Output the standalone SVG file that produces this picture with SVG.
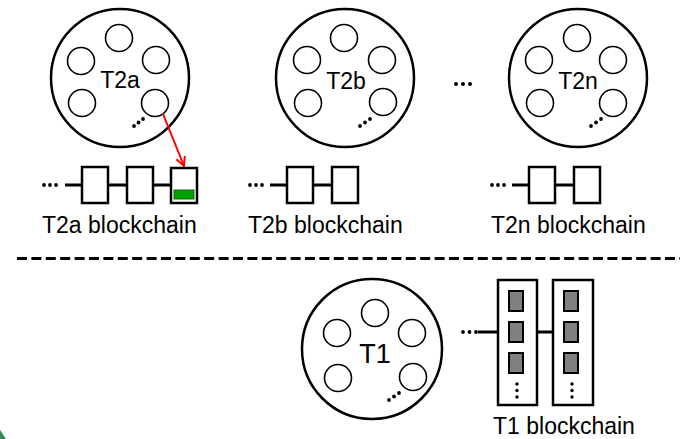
<svg xmlns="http://www.w3.org/2000/svg" width="680" height="439" viewBox="0 0 680 439">
<defs>
<style>
.outer{fill:#fff;stroke:#000;stroke-width:2.5}
.member{fill:#fff;stroke:#000;stroke-width:1.6}
.blk{fill:#fff;stroke:#000;stroke-width:2.5}
.link{stroke:#000;stroke-width:3;fill:none}
.dot{fill:#000}
.tx{font-family:"Liberation Sans",Arial,sans-serif;fill:#000}
.lbl{font-size:23px;text-anchor:middle}
.cap{font-size:23px}
.tx1{fill:#808080;stroke:#000;stroke-width:2}
</style>
<marker id="ah" viewBox="0 0 12 12" refX="10" refY="6" markerWidth="12" markerHeight="12" markerUnits="userSpaceOnUse" orient="auto">
<path d="M1,1.5 L10,6 L1,10.5" fill="none" stroke="#ff0000" stroke-width="2"/>
</marker>
</defs>
<rect width="680" height="439" fill="#fff"/>

<g id="shard-T2a">
<circle class="outer" cx="120" cy="78" r="69"/>
<circle class="member" cx="119" cy="38" r="13.5"/>
<circle class="member" cx="81" cy="61" r="13.5"/>
<circle class="member" cx="156" cy="60" r="13.5"/>
<circle class="member" cx="82" cy="103" r="13.5"/>
<circle class="member" cx="155" cy="103" r="13.5"/>
<text class="tx lbl" x="120" y="88">T2a</text>
<circle class="dot" cx="134" cy="126" r="1.9"/>
<circle class="dot" cx="138.5" cy="122.5" r="1.9"/>
<circle class="dot" cx="143" cy="119" r="1.9"/>
</g>

<g id="shard-T2b">
<circle class="outer" cx="345" cy="78" r="69"/>
<circle class="member" cx="344" cy="38" r="13.5"/>
<circle class="member" cx="307" cy="60" r="13.5"/>
<circle class="member" cx="382" cy="60" r="13.5"/>
<circle class="member" cx="308" cy="103" r="13.5"/>
<circle class="member" cx="383" cy="102" r="13.5"/>
<text class="tx lbl" x="346" y="89">T2b</text>
<circle class="dot" cx="360" cy="126" r="1.9"/>
<circle class="dot" cx="365" cy="122.5" r="1.9"/>
<circle class="dot" cx="370" cy="119" r="1.9"/>
</g>

<g id="ellipsis-shards">
<circle class="dot" cx="456" cy="84" r="2"/>
<circle class="dot" cx="463" cy="84" r="2"/>
<circle class="dot" cx="470" cy="84" r="2"/>
</g>

<g id="shard-T2n">
<circle class="outer" cx="578" cy="78" r="69"/>
<circle class="member" cx="577" cy="38" r="13.5"/>
<circle class="member" cx="539" cy="60" r="13.5"/>
<circle class="member" cx="613" cy="60" r="13.5"/>
<circle class="member" cx="540" cy="103" r="13.5"/>
<circle class="member" cx="613" cy="103" r="13.5"/>
<text class="tx lbl" x="578" y="89">T2n</text>
<circle class="dot" cx="591" cy="126" r="1.9"/>
<circle class="dot" cx="596" cy="122.5" r="1.9"/>
<circle class="dot" cx="601" cy="119" r="1.9"/>
</g>

<g id="connectors">
<line class="link" x1="65" y1="185" x2="82" y2="185"/>
<line class="link" x1="108" y1="185" x2="127" y2="185"/>
<line class="link" x1="153" y1="185" x2="171" y2="185"/>
<line class="link" x1="270" y1="185" x2="287" y2="185"/>
<line class="link" x1="313" y1="185" x2="332" y2="185"/>
<line class="link" x1="512" y1="185" x2="529" y2="185"/>
<line class="link" x1="555" y1="185" x2="574" y2="185"/>
<line class="link" x1="478" y1="332" x2="498" y2="332" stroke-width="2"/>
<line class="link" x1="537" y1="332" x2="553" y2="332" stroke-width="2"/>
<line x1="163" y1="114" x2="184" y2="166" stroke="#ff0000" stroke-width="2" marker-end="url(#ah)"/>
</g>

<g id="chain-T2a">
<circle class="dot" cx="44" cy="185" r="1.9"/>
<circle class="dot" cx="50" cy="185" r="1.9"/>
<circle class="dot" cx="56" cy="185" r="1.9"/>
<rect class="blk" x="82" y="167" width="26" height="36"/>
<rect class="blk" x="127" y="167" width="26" height="36"/>
<rect class="blk" x="171" y="168" width="26" height="35"/>
<rect x="174" y="190" width="20" height="9" fill="#00a000" stroke="#0a6e0a" stroke-width="1"/>
<text class="tx cap" x="42" y="233">T2a blockchain</text>
</g>

<g id="chain-T2b">
<circle class="dot" cx="250" cy="185" r="1.9"/>
<circle class="dot" cx="256" cy="185" r="1.9"/>
<circle class="dot" cx="262" cy="185" r="1.9"/>
<rect class="blk" x="287" y="167" width="26" height="36"/>
<rect class="blk" x="332" y="167" width="26" height="36"/>
<text class="tx cap" x="248" y="233">T2b blockchain</text>
</g>

<g id="chain-T2n">
<circle class="dot" cx="492" cy="185" r="1.9"/>
<circle class="dot" cx="498" cy="185" r="1.9"/>
<circle class="dot" cx="504" cy="185" r="1.9"/>
<rect class="blk" x="529" y="167" width="26" height="36"/>
<rect class="blk" x="574" y="167" width="26" height="36"/>
<text class="tx cap" x="491" y="233">T2n blockchain</text>
</g>

<line id="divider" x1="17" y1="258.5" x2="680" y2="258.5" stroke="#000" stroke-width="3" stroke-dasharray="10,4.4"/>

<g id="shard-T1">
<circle class="outer" cx="372" cy="349" r="70"/>
<circle class="member" cx="375" cy="313" r="13.5"/>
<circle class="member" cx="337" cy="333" r="13.5"/>
<circle class="member" cx="412" cy="333" r="13.5"/>
<circle class="member" cx="338" cy="378" r="13.5"/>
<circle class="member" cx="413" cy="377" r="13.5"/>
<text class="tx" x="375" y="363" font-size="27" text-anchor="middle">T1</text>
<circle class="dot" cx="389" cy="400" r="1.9"/>
<circle class="dot" cx="394" cy="396.5" r="1.9"/>
<circle class="dot" cx="399" cy="393" r="1.9"/>
</g>

<g id="chain-T1">
<circle class="dot" cx="463" cy="332" r="1.9"/>
<circle class="dot" cx="469.5" cy="332" r="1.9"/>
<circle class="dot" cx="476" cy="332" r="1.9"/>
<rect class="blk" x="498" y="280" width="39" height="125" stroke-width="2"/>
<rect class="tx1" x="509" y="291" width="14" height="20"/>
<rect class="tx1" x="509" y="322" width="14" height="20"/>
<rect class="tx1" x="509" y="353" width="14" height="20"/>
<circle class="dot" cx="517" cy="384" r="1.7"/>
<circle class="dot" cx="517" cy="390.5" r="1.7"/>
<circle class="dot" cx="517" cy="397" r="1.7"/>
<rect class="blk" x="553" y="280" width="40" height="125" stroke-width="2"/>
<rect class="tx1" x="564" y="291" width="14" height="20"/>
<rect class="tx1" x="564" y="322" width="14" height="20"/>
<rect class="tx1" x="564" y="353" width="14" height="20"/>
<circle class="dot" cx="572" cy="384" r="1.7"/>
<circle class="dot" cx="572" cy="390.5" r="1.7"/>
<circle class="dot" cx="572" cy="397" r="1.7"/>
<text class="tx cap" x="493" y="434">T1 blockchain</text>
</g>

<polygon points="0,430 6,439 0,439" fill="#2e8b57"/>
</svg>
